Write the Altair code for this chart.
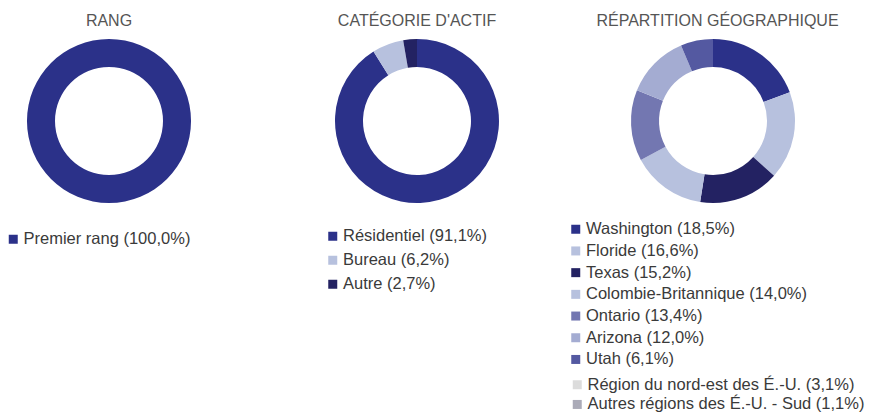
import altair as alt
import pandas as pd

# ---- data ----
titles = ["RANG", "CATÉGORIE D'ACTIF", "RÉPARTITION GÉOGRAPHIQUE"]

rang_labels = ["Premier rang"]
rang_values = [100.0]
rang_colors = ["#2B3189"]

cat_labels = ["Résidentiel", "Bureau", "Autre"]
cat_values = [91.1, 6.2, 2.7]
cat_colors = ["#2B3189", "#B7C1DE", "#232262"]

geo_labels = ["Washington", "Floride", "Texas", "Colombie-Britannique", "Ontario",
              "Arizona", "Utah", "Région du nord-est des É.-U.", "Autres régions des É.-U. - Sud"]
geo_values = [18.5, 16.6, 15.2, 14.0, 13.4, 12.0, 6.1, 3.1, 1.1]
geo_colors = ["#2B3189", "#B7C1DE", "#232262", "#B7C1DE", "#7377B1",
              "#A4ACD2", "#5459A1", "#DCDCDC", "#ABABB8"]
geo_in_ring = [True, True, True, True, True, True, True, False, False]


def fmt(v):
    return f"{v:.1f}".replace(".", ",")


def make_df(labels, values, shown=None):
    if shown is None:
        shown = [True] * len(labels)
    return pd.DataFrame({
        "label": [f"{l} ({fmt(v)}%)" for l, v in zip(labels, values)],
        "value": values,
        "order": list(range(len(labels))),
        "shown": shown,
    })


FONT = "Liberation Sans"
LABEL_COLOR = "#3A3A3A"
INNER, OUTER = 54, 82
CY = 113


def legend_of(lx, ly, row_pad):
    return alt.Legend(
        orient="none", legendX=lx, legendY=ly, title=None, direction="vertical",
        symbolType="square", symbolSize=81, symbolStrokeWidth=0, symbolOpacity=1,
        labelFont=FONT, labelFontSize=16.5, labelColor=LABEL_COLOR,
        labelLimit=500, rowPadding=row_pad, labelOffset=2,
    )


def donut(df, colors, cx, legend, flt="datum.shown", opacity=1):
    domain = list(df["label"])
    return (
        alt.Chart(df)
        .transform_filter(flt)
        .mark_arc(innerRadius=INNER, outerRadius=OUTER, opacity=opacity)
        .encode(
            theta=alt.Theta("value:Q", stack=True),
            order=alt.Order("order:Q"),
            color=alt.Color("label:N", scale=alt.Scale(domain=domain, range=colors),
                            legend=legend),
            x=alt.value(cx),
            y=alt.value(CY),
        )
    )


def title_text(t, cx):
    return (
        alt.Chart(pd.DataFrame({"t": [t]}))
        .mark_text(font=FONT, fontSize=16, color="#555555", align="center",
                   baseline="alphabetic")
        .encode(text="t:N", x=alt.value(cx), y=alt.value(18))
    )


geo_df = make_df(geo_labels, geo_values, geo_in_ring)
geo_main = geo_df[geo_df["shown"]]
geo_rest = geo_df[~geo_df["shown"]]
geo_main_colors = [c for c, s in zip(geo_colors, geo_in_ring) if s]
geo_rest_colors = [c for c, s in zip(geo_colors, geo_in_ring) if not s]

rang = donut(make_df(rang_labels, rang_values), rang_colors, 101, legend_of(-3, 223, 5))
cat = donut(make_df(cat_labels, cat_values), cat_colors, 409, legend_of(316.5, 220, 7))
geo = donut(geo_main, geo_main_colors, 705, legend_of(559.5, 213, 4.7))
geo2 = donut(geo_rest, geo_rest_colors, 705, legend_of(561, 368.5, 2.7),
             flt="!datum.shown", opacity=0)

chart = (
    alt.layer(
        rang, cat, geo, geo2,
        title_text(titles[0], 101),
        title_text(titles[1], 409),
        title_text(titles[2], 709.5),
    )
    .resolve_scale(theta="independent", color="independent")
    .properties(width=857, height=405, padding=0, autosize=alt.AutoSizeParams(type="none"))
    .configure_view(stroke=None)
)

chart.save("out.html", embed_options={"renderer": "svg", "actions": False})
